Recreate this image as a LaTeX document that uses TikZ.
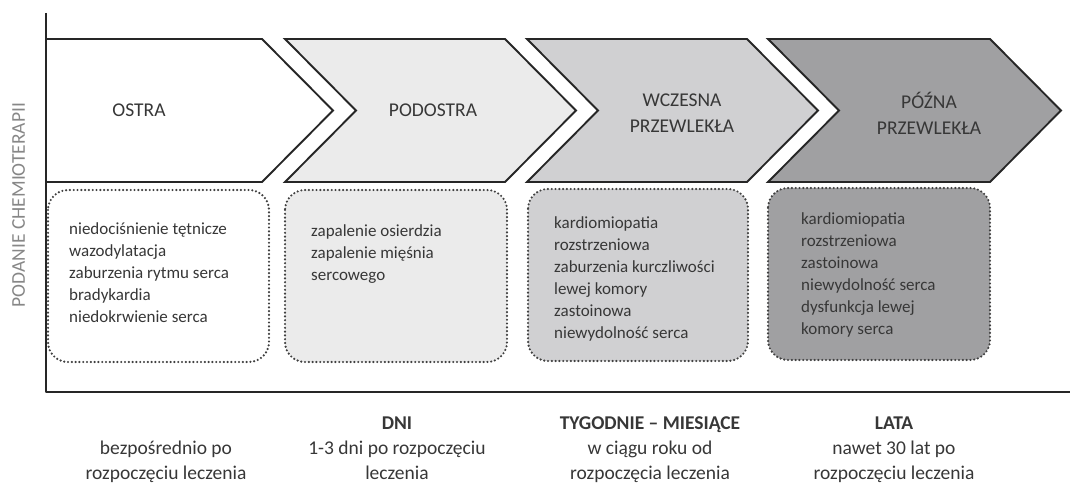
\documentclass[tikz,border=0pt]{standalone}
\usepackage{fontspec}
\setmainfont{Carlito}
\usetikzlibrary{positioning}
\definecolor{phaselight}{RGB}{235,235,235}
\definecolor{phasemid}{RGB}{208,208,210}
\definecolor{phasedark}{RGB}{160,160,162}
\definecolor{inkgray}{RGB}{55,55,55}
\definecolor{axisgray}{RGB}{135,135,135}

\begin{document}
\begin{tikzpicture}[x=1pt, y=-1pt,
    phase/.style={draw=black!85, line width=1.9pt, line join=miter},
    listbox/.style={draw=black!75, line width=2.4pt, dash pattern=on 0pt off 3.8pt, line cap=round, rounded corners=20pt},
    phaselabel/.style={text=inkgray, font=\fontsize{19.5}{26}\selectfont, align=center},
    listtext/.style={text=inkgray, font=\fontsize{17}{22}\selectfont, align=left, anchor=north west, inner sep=0pt},
    timetext/.style={text=inkgray, font=\fontsize{19.5}{25}\selectfont, align=center, anchor=base, inner sep=0pt}]
    \useasboundingbox (0,0) rectangle (1072,484);

    % Axes
    \draw[black!85, line width=2.2pt, line join=round] (46,13) -- (46,392) -- (1070,392);
    \node[rotate=90, text=axisgray, font=\fontsize{19.5}{24}\selectfont] (podanie) at (18.5,205) {PODANIE CHEMIOTERAPII};

    % Phases
    \draw[phase, fill=white] (46,39) -- (262,39) -- (333,110.5) -- (262,182) -- (46,182) -- cycle;
    \draw[phase, fill=phaselight] (285,39) -- (505,39) -- (576,110.5) -- (505,182) -- (285,182) -- (356,110.5) -- cycle;
    \draw[phase, fill=phasemid] (527,39) -- (747,39) -- (818,110.5) -- (747,182) -- (527,182) -- (598,110.5) -- cycle;
    \draw[phase, fill=phasedark] (768,39) -- (990,39) -- (1061,110.5) -- (990,182) -- (768,182) -- (839,110.5) -- cycle;

    \node[phaselabel] (ostra) at (139,110.5) {OSTRA};
    \node[phaselabel] (podostra) at (433,110.5) {PODOSTRA};
    \node[phaselabel] (wczesna) at (682,113) {WCZESNA\\PRZEWLEKŁA};
    \node[phaselabel] (pozna) at (929,113) {PÓŹNA\\PRZEWLEKŁA};

    % Effects
    \draw[listbox, fill=white] (48,190) rectangle (269,362);
    \draw[listbox, fill=phaselight] (285,190) rectangle (507,362);
    \draw[listbox, fill=phasemid] (528,189) rectangle (748,361);
    \draw[listbox, fill=phasedark] (768,188) rectangle (990,360);

    \node[listtext] (ostraList) at (69,222) {niedociśnienie tętnicze\\wazodylatacja\\zaburzenia rytmu serca\\bradykardia\\niedokrwienie serca};
    \node[listtext] (podostraList) at (311,224) {zapalenie osierdzia\\zapalenie mięśnia\\sercowego};
    \node[listtext] (wczesnaList) at (554,216.5) {kardiomiopatia\\rozstrzeniowa\\zaburzenia kurczliwości\\lewej komory\\zastoinowa\\niewydolność serca};
    \node[listtext] (poznaList) at (801,212.5) {kardiomiopatia\\rozstrzeniowa\\zastoinowa\\niewydolność serca\\dysfunkcja lewej\\komory serca};

    % Time
    \node[timetext] (bezposrednio) at (166,479) {bezpośrednio po\\rozpoczęciu leczenia};
    \node[timetext] (dni) at (397,479) {\textbf{DNI}\\1-3 dni po rozpoczęciu\\leczenia};
    \node[timetext] (tygodnie) at (650,479) {\textbf{TYGODNIE – MIESIĄCE}\\w ciągu roku od\\rozpoczęcia leczenia};
    \node[timetext] (lata) at (894,479) {\textbf{LATA}\\nawet 30 lat po\\rozpoczęciu leczenia};
\end{tikzpicture}
\end{document}
